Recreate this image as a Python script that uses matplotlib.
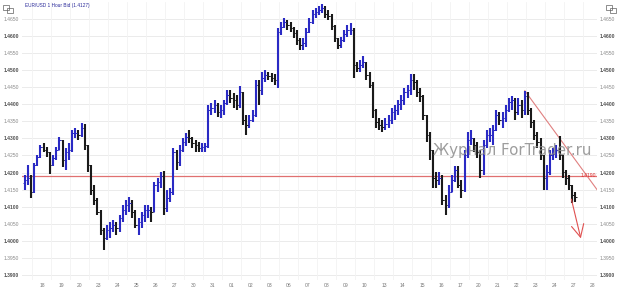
import numpy as np
import matplotlib.pyplot as plt
from matplotlib.patches import Rectangle

# trading days on the x axis (first 3 bars belong to the day before "18")
days = ['18', '19', '20', '23', '24', '25', '26', '27', '30', '31', '01', '02', '03', '06', '07',
        '08', '09', '10', '13', '14', '15', '16', '17', '20', '21', '22', '23', '24', '27', '28']
bars_per_day = 6
lead_bars = 3

open0 = 1.4170
bar_high = [
    1.4193, 1.4222, 1.4193,
    1.4228, 1.4251, 1.4281, 1.4287, 1.4275, 1.4260,
    1.4251, 1.4275, 1.4304, 1.4296, 1.4272, 1.4287,
    1.4325, 1.4331, 1.4325, 1.4345, 1.4342, 1.4281,
    1.4222, 1.4164, 1.4126, 1.4090, 1.4038, 1.4046,
    1.4055, 1.4061, 1.4055, 1.4076, 1.4105, 1.4120,
    1.4128, 1.4120, 1.4090, 1.4067, 1.4085, 1.4105,
    1.4105, 1.4099, 1.4172, 1.4184, 1.4202, 1.4205,
    1.4149, 1.4155, 1.4272, 1.4266, 1.4281, 1.4301,
    1.4316, 1.4325, 1.4304, 1.4296, 1.4290, 1.4287,
    1.4287, 1.4398, 1.4404, 1.4413, 1.4404, 1.4398,
    1.4413, 1.4442, 1.4442, 1.4433, 1.4427, 1.4454,
    1.4436, 1.4369, 1.4369, 1.4383, 1.4471, 1.4471,
    1.4495, 1.4501, 1.4495, 1.4492, 1.4489, 1.4624,
    1.4641, 1.4653, 1.4647, 1.4641, 1.4627, 1.4618,
    1.4594, 1.4594, 1.4624, 1.4653, 1.4676, 1.4682,
    1.4688, 1.4694, 1.4688, 1.4676, 1.4665, 1.4632,
    1.4594, 1.4597, 1.4618, 1.4632, 1.4638, 1.4624,
    1.4524, 1.4530, 1.4542, 1.4524, 1.4495, 1.4465,
    1.4386, 1.4360, 1.4354, 1.4360, 1.4369, 1.4389,
    1.4398, 1.4413, 1.4427, 1.4448, 1.4457, 1.4489,
    1.4489, 1.4471, 1.4448, 1.4427, 1.4369, 1.4319,
    1.4266, 1.4202, 1.4202, 1.4193, 1.4134, 1.4164,
    1.4193, 1.4219, 1.4219, 1.4178, 1.4266, 1.4319,
    1.4325, 1.4301, 1.4290, 1.4266, 1.4296, 1.4325,
    1.4331, 1.4339, 1.4383, 1.4377, 1.4377, 1.4398,
    1.4419, 1.4424, 1.4419, 1.4419, 1.4413, 1.4439,
    1.4436, 1.4389, 1.4354, 1.4319, 1.4301, 1.4251,
    1.4222, 1.4266, 1.4272, 1.4281, 1.4307, 1.4251,
    1.4208, 1.4193, 1.4164, 1.4143,
]
bar_low = [
    1.4149, 1.4164, 1.4126,
    1.4140, 1.4219, 1.4243, 1.4260, 1.4246, 1.4196,
    1.4219, 1.4237, 1.4266, 1.4216, 1.4208, 1.4237,
    1.4260, 1.4301, 1.4296, 1.4304, 1.4266, 1.4202,
    1.4134, 1.4105, 1.4076, 1.4017, 1.3973, 1.4002,
    1.4008, 1.4026, 1.4017, 1.4026, 1.4055, 1.4076,
    1.4085, 1.4067, 1.4038, 1.4017, 1.4038, 1.4055,
    1.4067, 1.4055, 1.4085, 1.4143, 1.4155, 1.4076,
    1.4085, 1.4114, 1.4134, 1.4208, 1.4219, 1.4260,
    1.4278, 1.4287, 1.4272, 1.4260, 1.4260, 1.4260,
    1.4260, 1.4272, 1.4369, 1.4375, 1.4363, 1.4360,
    1.4369, 1.4398, 1.4404, 1.4389, 1.4383, 1.4389,
    1.4339, 1.4310, 1.4331, 1.4348, 1.4363, 1.4398,
    1.4427, 1.4465, 1.4471, 1.4465, 1.4457, 1.4448,
    1.4603, 1.4624, 1.4618, 1.4612, 1.4594, 1.4574,
    1.4559, 1.4559, 1.4568, 1.4609, 1.4635, 1.4653,
    1.4662, 1.4668, 1.4653, 1.4647, 1.4618, 1.4582,
    1.4562, 1.4565, 1.4582, 1.4597, 1.4603, 1.4477,
    1.4495, 1.4495, 1.4507, 1.4471, 1.4448, 1.4360,
    1.4331, 1.4325, 1.4319, 1.4325, 1.4331, 1.4342,
    1.4354, 1.4369, 1.4383, 1.4398, 1.4419, 1.4427,
    1.4442, 1.4422, 1.4407, 1.4354, 1.4290, 1.4237,
    1.4155, 1.4155, 1.4164, 1.4105, 1.4076, 1.4096,
    1.4143, 1.4172, 1.4155, 1.4126, 1.4143, 1.4243,
    1.4281, 1.4260, 1.4243, 1.4184, 1.4193, 1.4272,
    1.4290, 1.4281, 1.4322, 1.4339, 1.4331, 1.4348,
    1.4377, 1.4383, 1.4354, 1.4369, 1.4360, 1.4369,
    1.4369, 1.4331, 1.4296, 1.4272, 1.4237, 1.4149,
    1.4149, 1.4193, 1.4237, 1.4243, 1.4237, 1.4184,
    1.4164, 1.4149, 1.4111, 1.4114,
]
bar_close = [
    1.4178, 1.4184, 1.4143,
    1.4222, 1.4246, 1.4275, 1.4266, 1.4260, 1.4222,
    1.4243, 1.4266, 1.4296, 1.4237, 1.4260, 1.4266,
    1.4316, 1.4316, 1.4310, 1.4331, 1.4281, 1.4222,
    1.4149, 1.4120, 1.4085, 1.4032, 1.4008, 1.4032,
    1.4038, 1.4046, 1.4038, 1.4067, 1.4090, 1.4105,
    1.4111, 1.4085, 1.4046, 1.4055, 1.4076, 1.4090,
    1.4090, 1.4085, 1.4164, 1.4172, 1.4190, 1.4096,
    1.4126, 1.4143, 1.4260, 1.4231, 1.4266, 1.4290,
    1.4304, 1.4301, 1.4287, 1.4281, 1.4272, 1.4275,
    1.4278, 1.4383, 1.4389, 1.4398, 1.4377, 1.4383,
    1.4404, 1.4427, 1.4419, 1.4413, 1.4398, 1.4436,
    1.4354, 1.4339, 1.4354, 1.4369, 1.4457, 1.4442,
    1.4477, 1.4486, 1.4483, 1.4477, 1.4471, 1.4612,
    1.4627, 1.4641, 1.4632, 1.4624, 1.4609, 1.4588,
    1.4574, 1.4580, 1.4612, 1.4641, 1.4665, 1.4671,
    1.4676, 1.4682, 1.4665, 1.4659, 1.4630, 1.4594,
    1.4574, 1.4588, 1.4606, 1.4618, 1.4618, 1.4515,
    1.4507, 1.4515, 1.4524, 1.4486, 1.4457, 1.4383,
    1.4348, 1.4339, 1.4334, 1.4342, 1.4354, 1.4377,
    1.4383, 1.4401, 1.4413, 1.4436, 1.4442, 1.4471,
    1.4465, 1.4436, 1.4424, 1.4369, 1.4310, 1.4266,
    1.4184, 1.4178, 1.4184, 1.4120, 1.4105, 1.4143,
    1.4178, 1.4208, 1.4164, 1.4149, 1.4251, 1.4296,
    1.4301, 1.4281, 1.4260, 1.4208, 1.4281, 1.4310,
    1.4310, 1.4325, 1.4369, 1.4354, 1.4360, 1.4383,
    1.4407, 1.4413, 1.4377, 1.4398, 1.4383, 1.4424,
    1.4383, 1.4348, 1.4310, 1.4290, 1.4251, 1.4184,
    1.4202, 1.4251, 1.4254, 1.4266, 1.4251, 1.4202,
    1.4184, 1.4164, 1.4134, 1.4127,
]

# drawn-in annotations (bar index, price)
level = 1.4190
trend_x = [158.0, 180.8]
trend_y = [1.4440, 1.4150]
arrow_from = (172.5, 1.4130)
arrow_to = (175.9, 1.3999)

high = np.array(bar_high)
low = np.array(bar_low)
close = np.array(bar_close)
opn = np.concatenate([[open0], close[:-1]])
x = np.arange(len(close))

W, H = 622, 290
fig = plt.figure(figsize=(W / 100, H / 100), dpi=100)
ax = fig.add_axes([22 / W, 10 / H, 575 / W, 278 / H])
ax.set_xlim(-0.8, 180.8)
ax.set_ylim(1.3885, 1.4700)
for s in ax.spines.values():
    s.set_visible(False)

# grid
yt = np.round(np.arange(1.3900, 1.46501, 0.005), 4)
for v in yt:
    ax.axhline(v, color='#ebebeb', lw=0.7, zorder=0)
for k in range(len(days) + 1):
    ax.axvline(lead_bars - 0.5 + bars_per_day * k, color='#f3f3f3', lw=0.6, zorder=0)

# OHLC bars
up = close >= opn
cols = np.where(up, '#2a2ac4', '#1a1a1a')
ax.vlines(x, low, high, colors=cols, lw=1.5, zorder=3)
ax.hlines(opn, x - 0.5, x, colors=cols, lw=0.7, zorder=3)
ax.hlines(close, x, x + 0.5, colors=cols, lw=0.7, zorder=3)

# level, trend line and arrow
ax.axhline(level, color='#e07070', lw=0.9, zorder=2)
ax.text(180.6, level, '1.4190', color='#e03030', fontsize=3.6, ha='right', va='center',
        family='Liberation Sans', zorder=4)
ax.plot(trend_x, trend_y, color='#e08080', lw=0.8, zorder=2)
ax.annotate('', xy=arrow_to, xytext=arrow_from,
            arrowprops=dict(arrowstyle='->,head_length=0.9,head_width=0.45', color='#e05050', lw=0.8))

# ticks
ax.set_yticks(yt)
ax.set_yticklabels([f'{v:.4f}' for v in yt])
ax.tick_params(axis='y', length=0, labelleft=True, labelright=True, pad=2)
for tk, v in zip(ax.yaxis.get_major_ticks(), yt):
    bold = abs(v * 100 - round(v * 100)) < 1e-6
    for lab in (tk.label1, tk.label2):
        lab.set_fontsize(3.6)
        lab.set_family('Liberation Sans')
        lab.set_fontweight('bold' if bold else 'normal')
        lab.set_color('#505050' if bold else '#8a8a8a')

centers = [lead_bars + bars_per_day * k + (bars_per_day - 1) / 2 for k in range(len(days))]
ax.set_xticks(centers)
ax.set_xticklabels(days, fontsize=3.6, color='#777777', family='Liberation Sans')
ax.tick_params(axis='x', length=0, pad=2)

# header
fig.text(25 / W, 1 - 6 / H, 'EUR/USD 1 Hour Bid (1.4127)', color='#2a2a9a', fontsize=3.4,
         va='center', family='Liberation Sans')
for x0 in (3, 606):
    for dx, dy in ((0, 0), (4, 3)):
        fig.add_artist(Rectangle(((x0 + dx) / W, 1 - (10 + dy) / H), 6 / W, 5 / H,
                                 transform=fig.transFigure, fill=False, ec='#606060', lw=0.5))

# watermark
fig.text(433 / W, 1 - 151 / H, 'Журнал ForTrader.ru', color='#8c8c8c', fontsize=10.8,
         va='center', ha='left', alpha=0.85)

fig.savefig('out.png', dpi=100)
